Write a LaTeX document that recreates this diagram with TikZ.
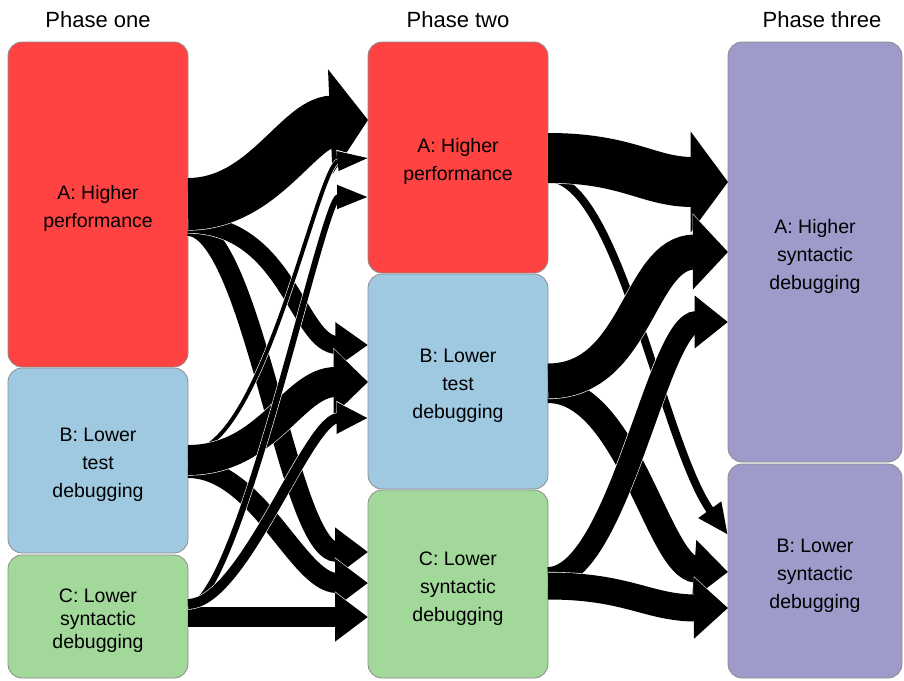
\documentclass[tikz,border=0pt]{standalone}
\usepackage{fontspec}
\setmainfont{Liberation Sans}
\usetikzlibrary{arrows.meta,calc}

\definecolor{phaseRed}{HTML}{FF4242}
\definecolor{phaseBlue}{HTML}{9FC9E1}
\definecolor{phaseGreen}{HTML}{A3D89B}
\definecolor{phasePurple}{HTML}{9E9ACA}

\newcommand*{\topStrut}{\rule{0pt}{23pt}}

\begin{document}
\begin{tikzpicture}[x=1pt,y=-1pt,
		phaseBox/.style={draw=black!45, line width=0.8pt, rounded corners=14pt,
			inner sep=0pt, outer sep=0pt, align=center,
			font=\fontsize{19.5}{28}\selectfont},
		phaseTitle/.style={font=\fontsize{22}{26}\selectfont},
		flow/.style={line width=#1, -{Triangle[length=30pt 0.15, width=12pt 1.75]},
			preaction={draw=white, line width=#1+1.2pt}}]
		\newcommand*{\colOne}{98}
		\newcommand*{\colTwo}{458}
		\newcommand*{\colThree}{815}

		\useasboundingbox (0,0) rectangle (904,680);

		\node[phaseTitle] (t1) at (\colOne,20) {Phase one};
		\node[phaseTitle] (t2) at (\colTwo,20) {Phase two};
		\node[phaseTitle] (t3) at (822,20) {Phase three};

		\node[phaseBox, fill=phaseRed, minimum width=180pt, minimum height=325pt] (a1) at (\colOne,204.5) {\topStrut A: Higher\\performance};
		\node[phaseBox, fill=phaseBlue, minimum width=180pt, minimum height=185pt] (b1) at (\colOne,460.5) {\topStrut B: Lower\\test\\debugging};
		\node[phaseBox, fill=phaseGreen, minimum width=180pt, minimum height=123pt,
			font=\fontsize{19.5}{23}\selectfont] (c1) at (\colOne,616.5) {\topStrut C: Lower\\syntactic\\debugging};

		\node[phaseBox, fill=phaseRed, minimum width=180pt, minimum height=231pt] (a2) at (\colTwo,157.5) {\topStrut A: Higher\\performance};
		\node[phaseBox, fill=phaseBlue, minimum width=180pt, minimum height=215pt] (b2) at (\colTwo,381.5) {\topStrut B: Lower\\test\\debugging};
		\node[phaseBox, fill=phaseGreen, minimum width=180pt, minimum height=188pt] (c2) at (\colTwo,584) {\topStrut C: Lower\\syntactic\\debugging};

		\node[phaseBox, fill=phasePurple, minimum width=174pt, minimum height=420pt] (a3) at (\colThree,252) {\topStrut A: Higher\\syntactic\\debugging};
		\node[phaseBox, fill=phasePurple, minimum width=174pt, minimum height=214pt] (b3) at (\colThree,571) {\topStrut B: Lower\\syntactic\\debugging};

		% phase one to phase two
		\draw[flow=20pt] ($(a1.east)+(0,21.5)$) .. controls +(65,0) and +(-80,0) .. ($(c2.west)+(0,-32)$);
		\draw[flow=18pt] ($(a1.east)+(0,19.5)$) .. controls +(100,0) and +(-70,0) .. ($(b2.west)+(0,-36.5)$);
		\draw[flow=52pt] ($(a1.east)+(0,-0.5)$) .. controls +(75,0) and +(-70,3) .. ($(a2.west)+(0,-37.5)$);

		\draw[flow=4pt] ($(b1.east)+(0,-8.5)$) .. controls +(75,0) and +(-50,5) .. ($(a2.west)+(0,0.5)$);
		\draw[flow=20pt] ($(b1.east)+(0,7.5)$) .. controls +(70,0) and +(-70,0) .. ($(c2.west)+(0,-1)$);
		\draw[flow=30pt] ($(b1.east)+(0,-0.5)$) .. controls +(80,0) and +(-75,0) .. ($(b2.west)+(0,0.5)$);

		\draw[flow=20pt] ($(c1.east)+(0,0.5)$) -- ($(c2.west)+(0,33)$);
		\draw[flow=6pt] ($(c1.east)+(0,-10.5)$) .. controls +(50,0) and +(-45,0) .. ($(a2.west)+(0,39.5)$);
		\draw[flow=10pt] ($(c1.east)+(0,-12.5)$) .. controls +(55,0) and +(-60,0) .. ($(b2.west)+(0,36.5)$);

		% phase two to phase three
		\draw[flow=8pt] ($(a2.east)+(0,20.5)$) .. controls +(70,0) and +(-65,-90) .. ($(b3.west)+(0,-36)$);
		\draw[flow=50pt] ($(a2.east)+(0,0.5)$) .. controls +(80,0) and +(-80,0) .. ($(a3.west)+(0,-70)$);

		\draw[flow=26pt] ($(b2.east)+(0,8.5)$) .. controls +(80,0) and +(-70,-5) .. ($(b3.west)+(0,1)$);
		\draw[flow=35pt] ($(b2.east)+(0,-0.5)$) .. controls +(90,0) and +(-90,0) .. ($(a3.west)+(0,0)$);

		\draw[flow=22pt] ($(c2.east)+(0,-6)$) .. controls +(70,0) and +(-70,0) .. ($(a3.west)+(0,70)$);
		\draw[flow=27pt] ($(c2.east)+(0,2)$) .. controls +(80,0) and +(-80,0) .. ($(b3.west)+(0,37)$);
\end{tikzpicture}
\end{document}
